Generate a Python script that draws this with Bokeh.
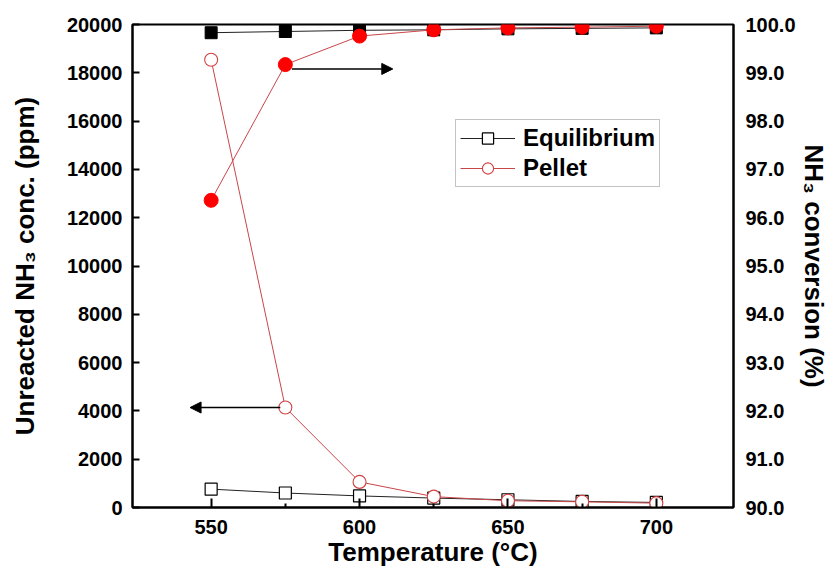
from bokeh.plotting import figure
from bokeh.models import (Range1d, LinearAxis, FixedTicker, NumeralTickFormatter,
                          Legend, LegendItem, Arrow, NormalHead)
from bokeh.embed import file_html
from bokeh.resources import INLINE

# ---- data ----
temps = [550, 575, 600, 625, 650, 675, 700]
eq_ppm = [760, 600, 480, 390, 320, 250, 210]
pellet_ppm = [18540, 4140, 1060, 450, 280, 235, 180]
eq_conv = [99.83, 99.855, 99.88, 99.89, 99.91, 99.92, 99.93]
pellet_conv = [96.36, 99.17, 99.76, 99.89, 99.93, 99.945, 99.965]

x_ticks = [550, 600, 650, 700]
x_minor = [575, 625, 675]
left_ticks = [0, 2000, 4000, 6000, 8000, 10000, 12000, 14000, 16000, 18000, 20000]
right_ticks = [90, 91, 92, 93, 94, 95, 96, 97, 98, 99, 100]

# arrows: (x_start, x_end, y)
arrow_conv = [577.2, 611.2, 99.08]
arrow_ppm = [573.3, 542.9, 4140]

FONT = "Liberation Sans"
RED_LINE = "#c8464a"
RED_OPEN = "#d04040"

p = figure(width=831, height=569, output_backend="svg", toolbar_location=None,
           x_range=Range1d(523.5, 726), y_range=Range1d(0, 20000),
           min_border_left=132, min_border_right=94, min_border_top=24,
           min_border_bottom=61)
p.extra_y_ranges = {"conv": Range1d(90, 100)}
p.xgrid.visible = False
p.ygrid.visible = False
p.outline_line_color = "black"
p.outline_line_width = 2
p.background_fill_color = "white"
p.border_fill_color = "white"

# x axis
xa = p.xaxis[0]
xa.ticker = FixedTicker(ticks=x_ticks, minor_ticks=x_minor)
xa.axis_label = "Temperature (°C)"
xa.major_tick_in = 9
xa.major_tick_out = 0
xa.minor_tick_in = 4
xa.minor_tick_out = 0
xa.major_label_standoff = 12

# left axis
ya = p.yaxis[0]
ya.ticker = FixedTicker(ticks=left_ticks)
ya.axis_label = "Unreacted NH₃ conc. (ppm)"
ya.major_tick_in = 7
ya.major_tick_out = 0
ya.minor_tick_line_color = None
ya.major_label_standoff = 10

# right axis
ra = LinearAxis(y_range_name="conv")
ra.ticker = FixedTicker(ticks=right_ticks)
ra.formatter = NumeralTickFormatter(format="0.0")
ra.axis_label = "NH₃ conversion (%)"
ra.major_tick_line_color = None
ra.minor_tick_line_color = None
ra.major_label_standoff = 6
p.add_layout(ra, "right")

for ax in [xa, ya, ra]:
    ax.axis_line_width = 2
    ax.axis_line_color = "black"
    ax.major_tick_line_width = 2
    ax.minor_tick_line_width = 2
    ax.major_label_text_font = FONT
    ax.major_label_text_font_style = "bold"
    ax.major_label_text_font_size = "20px"
    ax.major_label_text_color = "black"
    ax.axis_label_text_font = FONT
    ax.axis_label_text_font_style = "bold"
    ax.axis_label_text_font_size = "26px"
    ax.axis_label_text_color = "black"
xa.axis_label_standoff = 0
ya.axis_label_standoff = 24
ra.axis_label_standoff = 0

# equilibrium series
eq_line = p.line(temps, eq_ppm, line_color="#222222", line_width=1)
eq_sc = p.scatter(temps, eq_ppm, marker="square", size=12, fill_color="white",
                  line_color="black", line_width=1.2)
p.line(temps, eq_conv, y_range_name="conv", line_color="#222222", line_width=1)
p.scatter(temps, eq_conv, y_range_name="conv", marker="square", size=12,
          fill_color="black", line_color="black")

# pellet series
pl_line = p.line(temps, pellet_ppm, line_color=RED_LINE, line_width=1)
pl_sc = p.scatter(temps, pellet_ppm, marker="circle", size=13, fill_color="white",
                  line_color=RED_OPEN, line_width=1.1)
p.line(temps, pellet_conv, y_range_name="conv", line_color=RED_LINE, line_width=1)
p.scatter(temps, pellet_conv, y_range_name="conv", marker="circle", size=14,
          fill_color="#ff0000", line_color="#ff0000")

# arrows
p.add_layout(Arrow(end=NormalHead(size=11, fill_color="black", line_color="black"),
                   x_start=arrow_conv[0], x_end=arrow_conv[1],
                   y_start=arrow_conv[2], y_end=arrow_conv[2],
                   y_range_name="conv", line_width=1.5, line_color="black"))
p.add_layout(Arrow(end=NormalHead(size=11, fill_color="black", line_color="black"),
                   x_start=arrow_ppm[0], x_end=arrow_ppm[1],
                   y_start=arrow_ppm[2], y_end=arrow_ppm[2],
                   line_width=1.5, line_color="black"))

legend = Legend(items=[LegendItem(label="Equilibrium", renderers=[eq_line, eq_sc]),
                       LegendItem(label="Pellet", renderers=[pl_line, pl_sc])],
                location=(323, 320))
legend.label_text_font = FONT
legend.label_text_font_style = "bold"
legend.label_text_font_size = "24px"
legend.label_text_color = "black"
legend.glyph_width = 55
legend.glyph_height = 28
legend.label_height = 28
legend.label_standoff = 8
legend.padding = 4
legend.spacing = 2
legend.margin = 0
legend.border_line_color = "#888888"
legend.border_line_width = 1
legend.background_fill_alpha = 1
p.add_layout(legend)

open("out.html", "w").write(file_html(p, INLINE))
